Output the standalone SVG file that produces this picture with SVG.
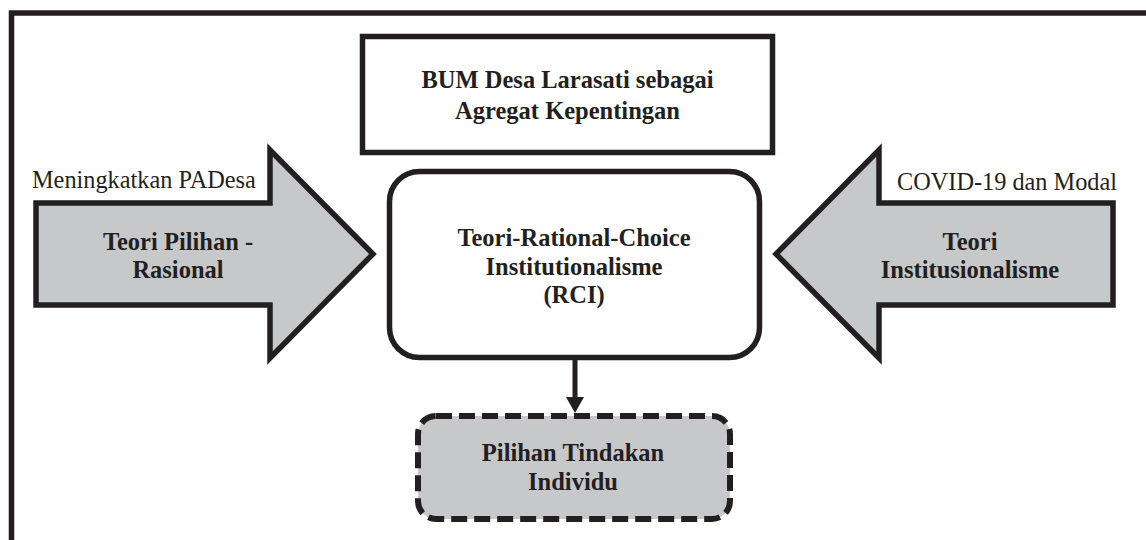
<svg xmlns="http://www.w3.org/2000/svg" width="1146" height="540" viewBox="0 0 1146 540">
<style>
.ln{fill:none;stroke:#231f20;stroke-width:5.5;stroke-linejoin:miter}
.box{fill:#ffffff;stroke:#231f20;stroke-width:5.5}
.gray{fill:#c7c8ca;stroke:#231f20;stroke-width:5.5;stroke-linejoin:miter}
.dash{fill:#c7c8ca;stroke:#231f20;stroke-width:6;stroke-dasharray:16 7}
.b{font-family:"Liberation Serif","Times New Roman","DejaVu Serif",serif;font-weight:bold;font-size:24.5px;fill:#231f20;text-anchor:middle}
.r{font-family:"Liberation Serif","Times New Roman","DejaVu Serif",serif;font-weight:normal;font-style:normal;font-size:24.3px;fill:#231f20}
</style>
<defs>
<marker id="ah" markerWidth="16" markerHeight="18" refX="3" refY="9" orient="auto" markerUnits="userSpaceOnUse" viewBox="0 0 16 18">
<path d="M0,0 L16,9 L0,18 Z" fill="#231f20"/>
</marker>
</defs>
<rect width="1146" height="540" fill="#ffffff"/>
<path id="frame" class="ln" d="M11.5,545 V13 H1150"/>
<g id="bum">
<rect class="box" x="362.5" y="36.5" width="410" height="116"/>
<text class="b" x="567.5" y="88">BUM Desa Larasati sebagai</text>
<text class="b" x="567.5" y="119">Agregat Kepentingan</text>
</g>
<g id="rci">
<rect class="box" x="389.5" y="171.5" width="370" height="186" rx="30"/>
<text class="b" x="574" y="246">Teori-Rational-Choice</text>
<text class="b" x="574" y="275">Institutionalisme</text>
<text class="b" x="574" y="303">(RCI)</text>
</g>
<g id="left-arrow">
<polygon class="gray" points="36,203 270,203 270,150 373,254 270,358 270,305 36,305"/>
<text class="b" x="178" y="250">Teori Pilihan -</text>
<text class="b" x="178" y="278">Rasional</text>
<text class="r" x="32" y="188">Meningkatkan PADesa</text>
</g>
<g id="right-arrow">
<polygon class="gray" points="1113,203 879,203 879,150 776,254 879,358 879,305 1113,305"/>
<text class="b" x="970" y="250">Teori</text>
<text class="b" x="970" y="278">Institusionalisme</text>
<text class="r" x="1117" y="190" text-anchor="end">COVID-19 dan Modal</text>
</g>
<g id="pilihan">
<rect class="dash" x="418" y="416" width="312" height="103" rx="18"/>
<text class="b" x="573" y="461">Pilihan Tindakan</text>
<text class="b" x="573" y="490">Individu</text>
</g>
<g id="connectors">
<line x1="575" y1="360" x2="575" y2="400" stroke="#231f20" stroke-width="5" marker-end="url(#ah)"/>
</g>
</svg>
